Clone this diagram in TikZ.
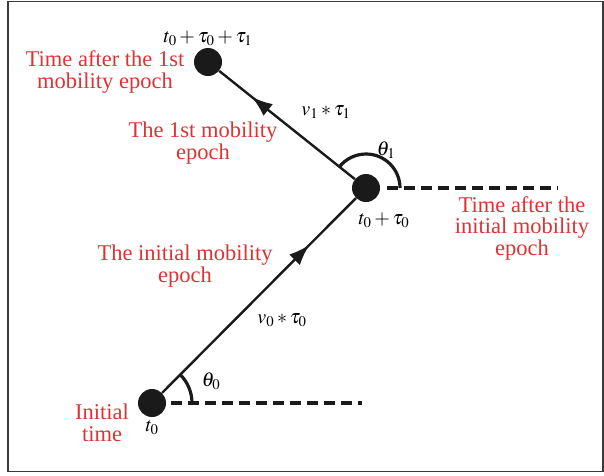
\documentclass[tikz,border=0pt]{standalone}
\usepackage{mathptmx}
\usepackage{fontspec}
\setmainfont{Liberation Serif}
\usetikzlibrary{positioning,arrows.meta,decorations.markings}
\definecolor{epochred}{HTML}{DD3333}
\definecolor{ink}{HTML}{1A1A1A}
\definecolor{framegray}{HTML}{3A3A3A}

\begin{document}
\begin{tikzpicture}[
  x=1pt,y=1pt,
  dot/.style={circle,fill=ink,inner sep=0pt,minimum size=28pt},
  lbl/.style={text=epochred,font=\fontsize{22.5}{21.5}\selectfont,align=center,inner sep=0pt},
  mth/.style={font=\fontsize{20}{22}\selectfont,inner sep=1pt},
  ref/.style={line width=3.2pt,dash pattern=on 11pt off 6pt,ink},
  ang/.style={line width=3.2pt,ink},
  seg/.style={line width=2.4pt,ink,postaction={decorate},
    decoration={markings,mark=at position #1 with {\arrow{Latex[length=21pt,width=15pt]}}}}
]
\useasboundingbox (0,0) rectangle (604,-475);
\draw[line width=1.8pt,framegray] (8,-1.5) rectangle (603,-471.5);

% positions
\node[dot] (p0) at (152,-403) {};
\node[dot] (p1) at (366,-188) {};
\node[dot] (p2) at (208,-62) {};
\coordinate (h0) at (362,-403);
\coordinate (h1) at (557,-188);

% movement segments
\draw[seg=0.76] (p0) -- (p1);
\draw[seg=0.76] (p1) -- (p2);

% reference directions and angles
\draw[ref] ([xshift=4.5pt]p0.east) -- (h0);
\draw[ref] ([xshift=6.5pt]p1.east) -- (h1);
\draw[ang] (p0.center) ++(0:40) arc (0:45:40);
\draw[ang] (p1.center) ++(0:34) arc (0:141:34);

% math labels
\node[mth,above=1pt of p2] (lt2) {$t_0+\tau_0+\tau_1$};
\node[mth] (lt1) at (384,-220) {$t_0+\tau_0$};
\node[mth,below=2pt of p0] (lt0) {$t_0$};
\node[mth] (v1) at (326,-112) {$v_1 \ast \tau_1$};
\node[mth] (v0) at (282,-320) {$v_0 \ast \tau_0$};
\node[mth] (th1) at (386,-150) {$\theta_1$};
\node[mth] (th0) at (211,-381) {$\theta_0$};

% red notes
\node[lbl] (after1) at (105,-72) {Time after the 1st\\mobility epoch};
\node[lbl] (ep1) at (203,-143) {The 1st mobility\\epoch};
\node[lbl] (after0) at (522,-228) {Time after the\\initial mobility\\epoch};
\node[lbl] (ep0) at (185,-266) {The initial mobility\\epoch};
\node[lbl] (init) at (102,-423) {Initial\\time};
\end{tikzpicture}
\end{document}
